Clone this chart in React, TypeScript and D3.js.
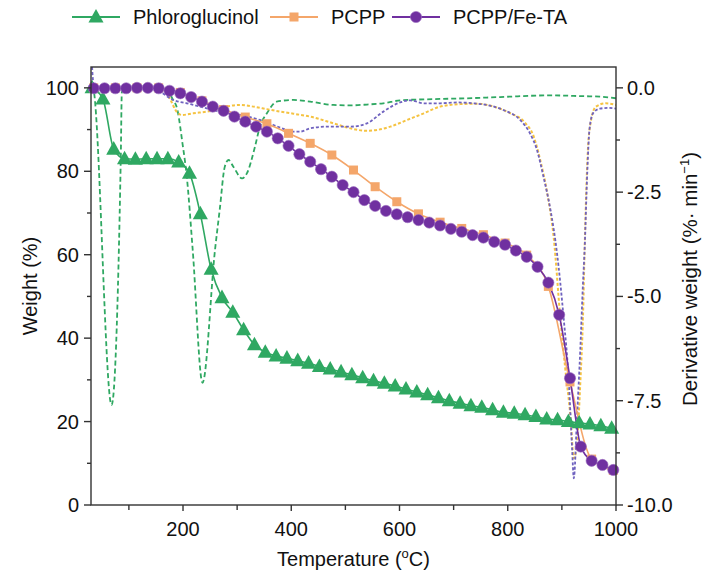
import React from 'react';
import * as d3 from 'd3';

// ---------- data ----------
const PHLORO_T = [32, 52, 72, 92, 112, 132, 152, 172, 192, 212, 232, 252, 272, 292, 312, 332, 352, 372, 392, 412, 432, 452, 472, 492, 512, 532, 552, 572, 592, 612, 632, 652, 672, 692, 712, 732, 752, 772, 792, 812, 832, 852, 872, 892, 912, 932, 952, 972, 992];
const PHLORO_W = [100, 97.3, 85.3, 83.0, 82.9, 83.0, 83.0, 83.0, 82.2, 79.5, 69.8, 56.5, 49.7, 46.2, 42.0, 38.4, 36.6, 35.7, 35.2, 34.6, 34.0, 33.2, 32.6, 31.9, 31.2, 30.5, 29.8, 29.2, 28.5, 27.8, 27.1, 26.4, 25.7, 25.0, 24.4, 23.8, 23.4, 22.8, 22.2, 22.0, 21.6, 21.2, 20.6, 20.4, 20.0, 19.7, 19.4, 19.0, 18.4];

const PCPP_T = [35, 75, 115, 155, 195, 235, 275, 315, 355, 395, 435, 475, 515, 555, 595, 635, 675, 715, 755, 795, 835, 875, 915, 955, 995];
const PCPP_W = [100, 100, 100, 100, 98.9, 96.9, 94.8, 93.0, 91.4, 89.1, 86.7, 83.9, 80.3, 76.3, 72.7, 69.8, 67.8, 66.3, 64.8, 62.8, 59.9, 52.4, 29.5, 11.0, 8.3];

const FETA_T = [35, 55, 75, 95, 115, 135, 155, 175, 195, 215, 235, 255, 275, 295, 315, 335, 355, 375, 395, 415, 435, 455, 475, 495, 515, 535, 555, 575, 595, 615, 635, 655, 675, 695, 715, 735, 755, 775, 795, 815, 835, 855, 875, 895, 915, 935, 955, 975, 995];
const FETA_W = [99.9, 99.9, 99.9, 99.9, 100, 100, 99.9, 99.3, 98.7, 97.8, 96.7, 95.5, 94.5, 93.1, 91.9, 90.7, 89.5, 87.9, 86.1, 84.1, 82.3, 80.5, 78.7, 76.7, 75.0, 73.1, 71.7, 70.5, 69.7, 69.0, 68.3, 67.7, 67.0, 66.2, 65.5, 64.7, 64.1, 63.1, 62.4, 61.0, 59.5, 57.1, 53.3, 45.6, 30.4, 14.0, 10.6, 9.6, 8.4];

// derivative curves (right axis)
const PHLORO_DTG_T = [32, 34, 68, 85, 87, 95, 120, 150, 170, 180, 190, 199, 207, 218, 236, 259, 268, 277, 284, 293, 309, 318, 333, 342, 355, 373, 404, 435, 478, 509, 540, 570, 601, 663, 725, 786, 879, 940, 971, 1000];
const PHLORO_DTG_D = [0.05, 0.0, -7.6, -1.7, -0.1, 0.0, 0.0, 0.0, -0.05, -0.25, -0.55, -1.33, -2.13, -3.9, -7.07, -3.9, -2.9, -1.9, -1.73, -1.89, -2.17, -2.05, -1.41, -0.93, -0.61, -0.33, -0.29, -0.33, -0.41, -0.42, -0.40, -0.37, -0.30, -0.27, -0.25, -0.22, -0.18, -0.2, -0.21, -0.25];

const PCPP_DTG_T = [32, 100, 150, 165, 177, 188, 198, 219, 244, 262, 281, 305, 330, 355, 380, 404, 435, 478, 509, 540, 558, 583, 614, 645, 675, 712, 743, 774, 805, 830, 848, 860, 873, 885, 897, 906, 916, 922, 928, 934, 939, 942, 945, 948, 954, 963, 981, 1000];
const PCPP_DTG_D = [0, 0, 0, -0.05, -0.29, -0.57, -0.65, -0.61, -0.57, -0.53, -0.45, -0.41, -0.45, -0.51, -0.57, -0.62, -0.69, -0.85, -0.97, -1.03, -1.01, -0.93, -0.77, -0.61, -0.45, -0.39, -0.38, -0.45, -0.61, -0.81, -1.17, -1.73, -2.53, -3.6, -5.5, -6.7, -7.9, -8.88, -8.5, -7.08, -5.48, -3.9, -2.5, -1.5, -0.77, -0.45, -0.37, -0.41];

const FETA_DTG_T = [32, 35, 40, 100, 140, 157, 182, 207, 232, 256, 281, 305, 342, 367, 392, 404, 416, 435, 466, 509, 540, 570, 601, 620, 645, 675, 706, 737, 761, 792, 823, 841, 854, 866, 879, 891, 903, 913, 919, 922, 928, 934, 939, 942, 947, 951, 958, 970, 985, 1000];
const FETA_DTG_D = [0.5, 0.05, 0, 0, 0, -0.09, -0.29, -0.37, -0.45, -0.53, -0.61, -0.65, -0.77, -0.89, -1.01, -1.05, -1.05, -0.97, -0.93, -0.93, -0.85, -0.57, -0.35, -0.30, -0.37, -0.37, -0.35, -0.37, -0.41, -0.53, -0.77, -1.09, -1.49, -2.13, -2.93, -3.96, -5.48, -7.08, -8.68, -9.36, -7.88, -6.28, -4.68, -3.88, -2.0, -1.0, -0.6, -0.5, -0.48, -0.5];

const X_TICKS = [200, 400, 600, 800, 1000];
const X_MINOR = [100, 300, 500, 700, 900];
const YL_TICKS = [0, 20, 40, 60, 80, 100];
const YL_MINOR = [10, 30, 50, 70, 90];
const YR_TICKS = [0, -2.5, -5, -7.5, -10];
const YR_MINOR = [-1.25, -3.75, -6.25, -8.75];

const SERIES_NAMES = ['Phloroglucinol', 'PCPP', 'PCPP/Fe-TA'];

// ---------- layout / style ----------
const W = 705, H = 578;
const L = 91, R = 616, T = 67, B = 505;
const GREEN = '#2fa862';
const ORANGE = '#f4a66a';
const PURPLE = '#7030a0';
const YELLOW = '#f5c342';
const SLATE = '#6f62bf';
const AXIS = '#333';
const FONT = 'Arial, "Liberation Sans", sans-serif';

const triPath = (s: number) => `M0,${-s * 0.62}L${s * 0.58},${s * 0.42}L${-s * 0.58},${s * 0.42}Z`;

export default function App() {
  const x = d3.scaleLinear().domain([30, 1000]).range([L, R]);
  const yW = d3.scaleLinear().domain([0, 105]).range([B, T]);
  const yD = d3.scaleLinear().domain([-10, 0.5]).range([B, T]);

  const solid = d3.line<[number, number]>().x(d => x(d[0])).y(d => yW(d[1])).curve(d3.curveMonotoneX);
  const dashed = d3.line<[number, number]>().x(d => x(d[0])).y(d => yD(d[1])).curve(d3.curveMonotoneX);

  const zip = (a: number[], b: number[]) => a.map((v, i) => [v, b[i]] as [number, number]);

  const phl = zip(PHLORO_T, PHLORO_W);
  const pcpp = zip(PCPP_T, PCPP_W);
  const feta = zip(FETA_T, FETA_W);

  const legendY = 17;
  const legendItems = [
    { name: SERIES_NAMES[0], color: GREEN, x0: 72, shape: 'tri' },
    { name: SERIES_NAMES[1], color: ORANGE, x0: 270, shape: 'sq' },
    { name: SERIES_NAMES[2], color: PURPLE, x0: 392, shape: 'circ' },
  ];

  const marker = (shape: string, color: string, cx: number, cy: number, key: any) => {
    if (shape === 'tri') return <path key={key} d={triPath(13)} transform={`translate(${cx},${cy})`} fill={color} />;
    if (shape === 'sq') return <rect key={key} x={cx - 4.5} y={cy - 4.5} width={9} height={9} fill={color} />;
    return <circle key={key} cx={cx} cy={cy} r={5.6} fill={color} stroke="#9b6cc0" strokeWidth={0.6} />;
  };

  return (
    <svg width={W} height={H} style={{ position: 'absolute', left: 0, top: 0, background: '#fff' }} fontFamily={FONT}>
      <defs>
        <clipPath id="plot">
          <rect x={L} y={T} width={R - L} height={B - T} />
        </clipPath>
      </defs>

      {/* legend */}
      {legendItems.map((it, i) => (
        <g key={i}>
          <line x1={it.x0} x2={it.x0 + 48} y1={legendY} y2={legendY} stroke={it.color} strokeWidth={1.8} />
          {marker(it.shape, it.color, it.x0 + 24, legendY, 'm')}
          <text x={it.x0 + 61} y={legendY + 7} fontSize={20} fill="#111">{it.name}</text>
        </g>
      ))}

      {/* dashed derivative curves */}
      <g clipPath="url(#plot)" fill="none">
        <path d={dashed(zip(PHLORO_DTG_T, PHLORO_DTG_D)) || ''} stroke={GREEN} strokeWidth={1.8} strokeDasharray="5,3" />
        <path d={dashed(zip(PCPP_DTG_T, PCPP_DTG_D)) || ''} stroke={YELLOW} strokeWidth={2} strokeDasharray="3,2" />
        <path d={dashed(zip(FETA_DTG_T, FETA_DTG_D)) || ''} stroke={SLATE} strokeWidth={1.8} strokeDasharray="3,2" />
      </g>

      {/* TGA curves */}
      <g fill="none">
        <path d={solid(phl) || ''} stroke={GREEN} strokeWidth={1.6} />
        <path d={solid(pcpp) || ''} stroke={ORANGE} strokeWidth={1.6} />
        <path d={solid(feta) || ''} stroke={PURPLE} strokeWidth={1.6} />
      </g>
      <g>
        {phl.map((d, i) => marker('tri', GREEN, x(d[0]), yW(d[1]), 'p' + i))}
        {pcpp.map((d, i) => marker('sq', ORANGE, x(d[0]), yW(d[1]), 'o' + i))}
        {feta.map((d, i) => marker('circ', PURPLE, x(d[0]), yW(d[1]), 'f' + i))}
      </g>

      {/* frame */}
      <rect x={L} y={T} width={R - L} height={B - T} fill="none" stroke={AXIS} strokeWidth={1.4} />

      {/* x axis */}
      {X_TICKS.map(t => (
        <g key={'xt' + t}>
          <line x1={x(t)} x2={x(t)} y1={B} y2={B + 6} stroke={AXIS} strokeWidth={1.4} />
          <text x={x(t)} y={B + 31} fontSize={20} textAnchor="middle" fill="#111">{t}</text>
        </g>
      ))}
      {X_MINOR.map(t => (
        <line key={'xm' + t} x1={x(t)} x2={x(t)} y1={B} y2={B + 5} stroke={AXIS} strokeWidth={1.4} />
      ))}

      {/* left axis */}
      {YL_TICKS.map(t => (
        <g key={'yl' + t}>
          <line x1={L - 7} x2={L} y1={yW(t)} y2={yW(t)} stroke={AXIS} strokeWidth={1.4} />
          <text x={L - 12} y={yW(t) + 7} fontSize={20} textAnchor="end" fill="#111">{t}</text>
        </g>
      ))}
      {YL_MINOR.map(t => (
        <line key={'ylm' + t} x1={L - 4} x2={L} y1={yW(t)} y2={yW(t)} stroke={AXIS} strokeWidth={1.4} />
      ))}

      {/* right axis */}
      {YR_TICKS.map(t => (
        <g key={'yr' + t}>
          <line x1={R} x2={R + 7} y1={yD(t)} y2={yD(t)} stroke={AXIS} strokeWidth={1.4} />
          <text x={R + 11} y={yD(t) + 7} fontSize={20} textAnchor="start" fill="#111">{d3.format('.1f')(t).replace('−', '-')}</text>
        </g>
      ))}
      {YR_MINOR.map(t => (
        <line key={'yrm' + t} x1={R} x2={R + 4} y1={yD(t)} y2={yD(t)} stroke={AXIS} strokeWidth={1.4} />
      ))}

      {/* axis titles */}
      <text x={(L + R) / 2} y={566} fontSize={20} textAnchor="middle" fill="#111">
        Temperature (<tspan fontSize={13} dy={-8}>o</tspan><tspan dy={8}>C)</tspan>
      </text>
      <text transform={`translate(37,${(T + B) / 2}) rotate(-90)`} fontSize={20} textAnchor="middle" fill="#111">Weight (%)</text>
      <text transform={`translate(697,279) rotate(-90)`} fontSize={20.5} textAnchor="middle" fill="#111">
        Derivative weight (%· min<tspan fontSize={13} dy={-8}>−1</tspan><tspan dy={8}>)</tspan>
      </text>
    </svg>
  );
}
